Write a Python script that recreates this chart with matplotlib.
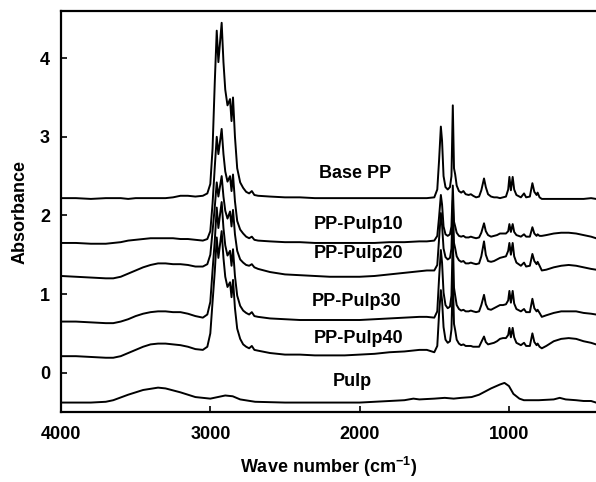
import matplotlib
matplotlib.use("Agg")
import matplotlib.pyplot as plt

plt.rcParams['font.family'] = ['Liberation Sans', 'DejaVu Sans']
plt.rcParams['font.weight'] = 'bold'
plt.rcParams['mathtext.fontset'] = 'custom'
plt.rcParams['mathtext.rm'] = 'Liberation Sans'
plt.rcParams['mathtext.bf'] = 'Liberation Sans:bold'

# wavenumber grid shared by the PP based spectra (cm-1)
wn_pp = [4000, 3900, 3800, 3700, 3650, 3600, 3550, 3500, 3450, 3400,
         3350, 3300, 3250, 3200, 3150, 3100, 3050, 3020, 3000, 2985,
         2970, 2957, 2946, 2935, 2924, 2912, 2900, 2885, 2868, 2858,
         2848, 2835, 2820, 2800, 2780, 2760, 2740, 2722, 2705, 2680,
         2600, 2500, 2400, 2300, 2200, 2100, 2000, 1900, 1800, 1700,
         1600, 1550, 1500, 1480, 1468, 1456, 1448, 1438, 1425, 1410,
         1395, 1385, 1376, 1368, 1360, 1350, 1335, 1320, 1305, 1290,
         1270, 1255, 1240, 1220, 1200, 1185, 1167, 1155, 1140, 1120,
         1100, 1080, 1060, 1040, 1020, 1005, 997, 987, 975, 965,
         950, 920, 899, 885, 860, 843, 830, 815, 808, 795,
         780, 750, 700, 650, 600, 550, 500, 450, 417]

base_pp = [2.22, 2.22, 2.21, 2.22, 2.22, 2.22, 2.21, 2.22, 2.22, 2.22,
           2.22, 2.22, 2.23, 2.25, 2.25, 2.24, 2.25, 2.28, 2.40, 2.85,
           3.70, 4.35, 3.95, 4.20, 4.45, 3.95, 3.60, 3.40, 3.48, 3.20,
           3.50, 3.00, 2.60, 2.42, 2.35, 2.30, 2.28, 2.31, 2.26, 2.25,
           2.24, 2.23, 2.23, 2.22, 2.22, 2.22, 2.22, 2.22, 2.22, 2.22,
           2.22, 2.22, 2.23, 2.33, 2.70, 3.13, 2.95, 2.50, 2.36, 2.33,
           2.36, 2.50, 3.40, 2.60, 2.52, 2.38, 2.31, 2.29, 2.31, 2.27,
           2.26, 2.27, 2.25, 2.23, 2.24, 2.32, 2.47, 2.36, 2.27, 2.24,
           2.23, 2.23, 2.22, 2.23, 2.24, 2.33, 2.49, 2.32, 2.49, 2.33,
           2.26, 2.23, 2.28, 2.23, 2.24, 2.41, 2.30, 2.26, 2.29, 2.23,
           2.21, 2.21, 2.21, 2.21, 2.21, 2.21, 2.21, 2.22, 2.21]

pp_pulp10 = [1.65, 1.65, 1.64, 1.64, 1.65, 1.66, 1.68, 1.69, 1.70, 1.71,
             1.71, 1.71, 1.71, 1.70, 1.70, 1.69, 1.68, 1.70, 1.80, 2.15,
             2.62, 3.00, 2.78, 2.94, 3.10, 2.78, 2.56, 2.43, 2.50, 2.31,
             2.52, 2.18, 1.93, 1.82, 1.77, 1.73, 1.71, 1.73, 1.69, 1.68,
             1.67, 1.66, 1.66, 1.65, 1.65, 1.65, 1.65, 1.65, 1.66, 1.66,
             1.67, 1.67, 1.68, 1.74, 1.98, 2.26, 2.14, 1.86, 1.76, 1.74,
             1.76, 1.86, 2.38, 1.92, 1.86, 1.78, 1.74, 1.73, 1.74, 1.72,
             1.72, 1.73, 1.72, 1.71, 1.72, 1.78, 1.90, 1.80, 1.75, 1.73,
             1.74, 1.75, 1.77, 1.77, 1.77, 1.80, 1.89, 1.79, 1.89, 1.79,
             1.75, 1.73, 1.76, 1.73, 1.73, 1.85, 1.77, 1.74, 1.76, 1.74,
             1.74, 1.75, 1.77, 1.78, 1.78, 1.77, 1.75, 1.73, 1.71]

pp_pulp20 = [1.23, 1.22, 1.21, 1.20, 1.20, 1.22, 1.26, 1.30, 1.34, 1.37,
             1.39, 1.39, 1.38, 1.38, 1.37, 1.35, 1.35, 1.38, 1.50, 1.80,
             2.11, 2.42, 2.24, 2.37, 2.50, 2.24, 2.06, 1.96, 2.05, 1.86,
             2.07, 1.76, 1.55, 1.44, 1.40, 1.37, 1.36, 1.38, 1.34, 1.32,
             1.28, 1.25, 1.24, 1.23, 1.22, 1.22, 1.22, 1.23, 1.25, 1.27,
             1.29, 1.30, 1.30, 1.37, 1.70, 2.03, 1.88, 1.58, 1.47, 1.44,
             1.46, 1.58, 2.19, 1.65, 1.58, 1.48, 1.43, 1.41, 1.42, 1.39,
             1.39, 1.40, 1.39, 1.38, 1.39, 1.48, 1.67, 1.50, 1.42, 1.41,
             1.42, 1.44, 1.46, 1.47, 1.48, 1.55, 1.65, 1.50, 1.65, 1.48,
             1.40, 1.36, 1.40, 1.35, 1.36, 1.51, 1.42, 1.38, 1.41, 1.36,
             1.30, 1.31, 1.34, 1.36, 1.37, 1.36, 1.34, 1.32, 1.31]

pp_pulp30 = [0.65, 0.65, 0.64, 0.63, 0.63, 0.65, 0.68, 0.72, 0.75, 0.77,
             0.78, 0.78, 0.77, 0.77, 0.75, 0.72, 0.70, 0.74, 0.90, 1.30,
             1.68, 2.10, 1.84, 2.01, 2.17, 1.84, 1.62, 1.49, 1.55, 1.36,
             1.57, 1.23, 0.98, 0.85, 0.79, 0.76, 0.74, 0.77, 0.72, 0.71,
             0.69, 0.68, 0.67, 0.67, 0.67, 0.67, 0.67, 0.68, 0.69, 0.70,
             0.71, 0.71, 0.70, 0.78, 1.20, 1.56, 1.40, 1.02, 0.86, 0.82,
             0.84, 0.98, 1.74, 1.08, 0.98, 0.86, 0.81, 0.79, 0.80, 0.78,
             0.78, 0.79, 0.78, 0.77, 0.78, 0.86, 0.99, 0.87, 0.81, 0.80,
             0.82, 0.84, 0.86, 0.86, 0.87, 0.92, 1.04, 0.89, 1.04, 0.88,
             0.81, 0.78, 0.81, 0.77, 0.77, 0.94, 0.82, 0.78, 0.80, 0.76,
             0.71, 0.73, 0.76, 0.78, 0.78, 0.78, 0.76, 0.75, 0.74]

pp_pulp40 = [0.21, 0.21, 0.20, 0.19, 0.19, 0.21, 0.25, 0.29, 0.33, 0.36,
             0.37, 0.37, 0.36, 0.35, 0.33, 0.30, 0.29, 0.33, 0.50, 0.90,
             1.29, 1.72, 1.46, 1.63, 1.80, 1.46, 1.22, 1.09, 1.15, 0.96,
             1.18, 0.82, 0.56, 0.43, 0.36, 0.33, 0.31, 0.34, 0.29, 0.28,
             0.25, 0.23, 0.23, 0.22, 0.22, 0.22, 0.23, 0.24, 0.26, 0.27,
             0.29, 0.29, 0.26, 0.34, 0.75, 1.05, 0.92, 0.58, 0.42, 0.38,
             0.40, 0.55, 1.23, 0.62, 0.54, 0.42, 0.37, 0.35, 0.36, 0.34,
             0.34, 0.34, 0.33, 0.33, 0.33, 0.39, 0.46, 0.39, 0.36, 0.37,
             0.38, 0.40, 0.43, 0.44, 0.44, 0.48, 0.57, 0.45, 0.57, 0.45,
             0.38, 0.35, 0.38, 0.34, 0.34, 0.50, 0.39, 0.35, 0.37, 0.33,
             0.31, 0.34, 0.40, 0.43, 0.44, 0.43, 0.40, 0.38, 0.36]

wn_pulp = [4000, 3800, 3700, 3650, 3550, 3450, 3350, 3300, 3200, 3100,
           3000, 2950, 2900, 2850, 2800, 2700, 2500, 2300, 2100, 2000,
           1900, 1800, 1700, 1640, 1600, 1500, 1430, 1370, 1320, 1250,
           1200, 1160, 1120, 1060, 1030, 1000, 970, 930, 900, 800,
           700, 660, 620, 550, 500, 450, 417]
pulp = [-0.38, -0.38, -0.37, -0.35, -0.28, -0.22, -0.19, -0.20, -0.25, -0.31,
        -0.33, -0.31, -0.29, -0.30, -0.34, -0.37, -0.38, -0.38, -0.38, -0.38,
        -0.37, -0.36, -0.35, -0.33, -0.34, -0.33, -0.32, -0.33, -0.32, -0.31,
        -0.28, -0.24, -0.20, -0.15, -0.13, -0.17, -0.27, -0.33, -0.35, -0.35,
        -0.34, -0.32, -0.34, -0.35, -0.36, -0.36, -0.38]

labels = ["Base PP", "PP-Pulp10", "PP-Pulp20", "PP-Pulp30", "PP-Pulp40", "Pulp"]
label_x = [2030, 2010, 2010, 2020, 2005, 2050]
label_y = [2.53, 1.88, 1.51, 0.90, 0.44, -0.11]

fig = plt.figure(figsize=(5.96, 4.82), dpi=100)
ax = fig.add_axes([61 / 596, 70 / 482, 535 / 596, 401 / 482])

for series in [base_pp, pp_pulp10, pp_pulp20, pp_pulp30, pp_pulp40]:
    ax.plot(wn_pp, series, color='black', lw=1.4)
ax.plot(wn_pulp, pulp, color='black', lw=1.4)

for txt, tx, ty in zip(labels, label_x, label_y):
    ax.text(tx, ty, txt, fontsize=13, fontweight='bold', ha='center', va='center')

ax.set_xlim(4000, 417)
ax.set_ylim(-0.5, 4.6)
ax.set_xticks([4000, 3000, 2000, 1000])
ax.set_yticks([0, 1, 2, 3, 4])
ax.tick_params(direction='in', length=4.5, width=1.2, labelsize=13, pad=8)
ax.tick_params(axis='x', pad=10)
for lab in ax.get_xticklabels() + ax.get_yticklabels():
    lab.set_fontweight('bold')

for side in ['left', 'top', 'bottom']:
    ax.spines[side].set_linewidth(1.6)
ax.spines['right'].set_visible(False)

ax.set_xlabel(r"Wave number (cm$^{\mathbf{-1}}$)", fontsize=13, fontweight='bold', labelpad=9)
ax.set_ylabel("Absorbance", fontsize=13, fontweight='bold', labelpad=8)

fig.savefig("out.png", dpi=100)
